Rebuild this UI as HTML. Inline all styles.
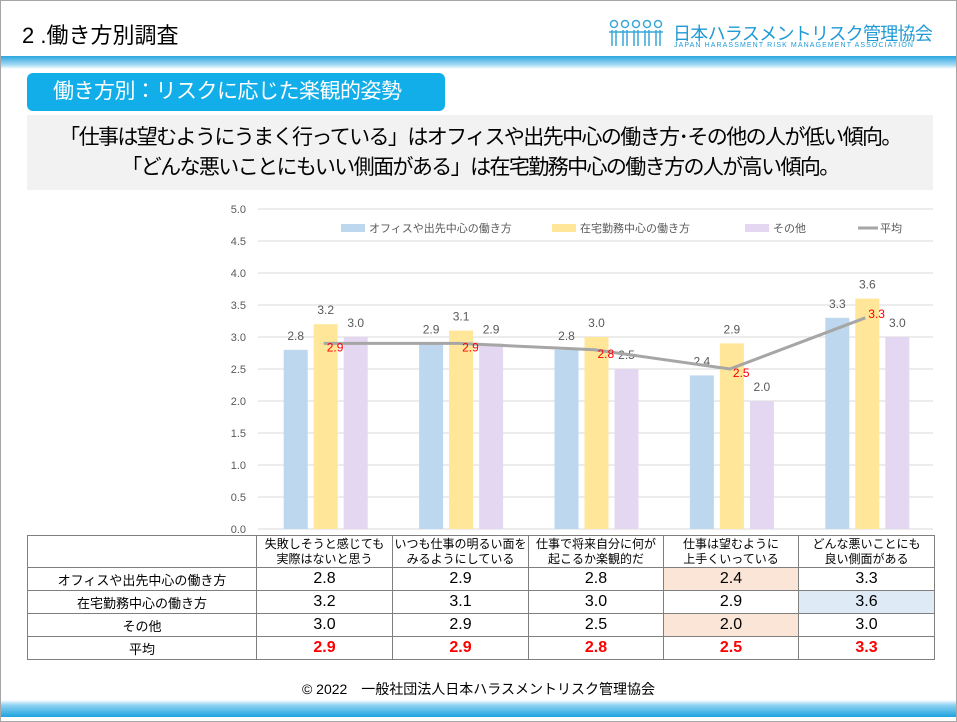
<!DOCTYPE html>
<html><head><meta charset="utf-8">
<style>
body{margin:0;width:957px;height:722px;position:relative;background:#fff;font-family:"Liberation Sans","Noto Sans CJK JP",sans-serif;overflow:hidden}
.abs{position:absolute}
table{border-collapse:collapse;position:absolute;left:27px;top:535px;font-family:"Liberation Sans","Noto Sans CJK JP",sans-serif}
td{border:1px solid #7f7f7f;text-align:center;padding:0;color:#000}
tr.avg td.v{color:#f00;font-weight:bold}
</style></head><body>
<div class="abs" style="left:0;top:0;width:955px;height:720px;border:1px solid #a6a6a6"></div>
<div class="abs" style="left:22px;top:18px;font-size:22px;color:#000">2 .働き方別調査</div>
<div class="abs" style="left:608px;top:18px;width:330px;height:32px">
<svg width="58" height="30" style="position:absolute;left:0;top:0">
<g fill="none" stroke="#3aa7d8" stroke-width="1.5">
<circle cx="6" cy="6" r="3.5"/><circle cx="17" cy="6" r="3.5"/><circle cx="28" cy="6" r="3.5"/><circle cx="39" cy="6" r="3.5"/><circle cx="50" cy="6" r="3.5"/>
<path d="M1 14h54M4 12v16M8 12v16M15 12v16M19 12v16M26 12v16M30 12v16M37 12v16M41 12v16M48 12v16M52 12v16"/></g></svg>
<div class="abs" style="left:65px;top:2px;font-size:18px;color:#1f9ad6;letter-spacing:-0.7px;white-space:nowrap">日本ハラスメントリスク管理協会</div>
<div class="abs" style="left:66px;top:24px;font-size:7px;color:#1f9ad6;letter-spacing:1.1px;white-space:nowrap">JAPAN HARASSMENT RISK MANAGEMENT ASSOCIATION</div>
</div>
<div class="abs" style="left:1px;top:56px;width:955px;height:13px;background:linear-gradient(#2aa6df,#a9dcf4 70%,#fff)"></div>
<div class="abs" style="left:27px;top:73px;width:418px;height:38px;background:#11aeea;border-radius:6px;color:#fff;font-size:21px;line-height:38px;padding-left:26px;box-sizing:border-box;letter-spacing:-0.5px">働き方別：リスクに応じた楽観的姿勢</div>
<div class="abs" style="left:27px;top:115px;width:906px;height:75px;background:#f2f2f2;text-align:center;font-size:21px;line-height:30px;padding-top:8px;box-sizing:border-box;color:#000;white-space:nowrap;letter-spacing:-1.6px">「仕事は望むようにうまく行っている」はオフィスや出先中心の働き方･その他の人が低い傾向。<br>「どんな悪いことにもいい側面がある」は在宅勤務中心の働き方の人が高い傾向。</div>

<svg class="abs" style="left:0;top:0" width="957" height="540" id="chart"></svg>

<table>
<tr style="height:32px;font-size:12px;line-height:15px"><td style="width:228px"></td><td style="width:135px">失敗しそうと感じても<br>実際はないと思う</td><td style="width:135px">いつも仕事の明るい面を<br>みるようにしている</td><td style="width:134px">仕事で将来自分に何が<br>起こるか楽観的だ</td><td style="width:134px">仕事は望むように<br>上手くいっている</td><td style="width:135px">どんな悪いことにも<br>良い側面がある</td></tr>
<tr style="height:23px;font-size:16px"><td style="font-size:13px">オフィスや出先中心の働き方</td><td>2.8</td><td>2.9</td><td>2.8</td><td style="background:#fbe5d6">2.4</td><td>3.3</td></tr>
<tr style="height:23px;font-size:16px"><td style="font-size:13px">在宅勤務中心の働き方</td><td>3.2</td><td>3.1</td><td>3.0</td><td>2.9</td><td style="background:#deebf7">3.6</td></tr>
<tr style="height:23px;font-size:16px"><td style="font-size:13px">その他</td><td>3.0</td><td>2.9</td><td>2.5</td><td style="background:#fbe5d6">2.0</td><td>3.0</td></tr>
<tr class="avg" style="height:23px;font-size:16px"><td style="font-size:13px">平均</td><td class="v">2.9</td><td class="v">2.9</td><td class="v">2.8</td><td class="v">2.5</td><td class="v">3.3</td></tr>
</table>

<div class="abs" style="left:0;width:957px;top:679px;text-align:center;font-size:14px;color:#000">© 2022　一般社団法人日本ハラスメントリスク管理協会</div>
<div class="abs" style="left:1px;top:700px;width:955px;height:17px;background:linear-gradient(#fff,#8fd2f2 30%,#1ea3de)"></div>

<script>
const categories=["失敗しそうと感じても実際はないと思う","いつも仕事の明るい面をみるようにしている","仕事で将来自分に何が起こるか楽観的だ","仕事は望むように上手くいっている","どんな悪いことにも良い側面がある"];
const office=[2.8,2.9,2.8,2.4,3.3];
const home=[3.2,3.1,3.0,2.9,3.6];
const other=[3.0,2.9,2.5,2.0,3.0];
const avg=[2.9,2.9,2.8,2.5,3.3];
const yTicks=[0,0.5,1,1.5,2,2.5,3,3.5,4,4.5,5];
const NS="http://www.w3.org/2000/svg";
const svg=document.getElementById('chart');
const x0=256,x1=933,y0=529,yTop=209,yMax=5;
const y=v=>y0-(v/yMax)*(y0-yTop);
const cw=(x1-x0)/categories.length;
const cx=i=>x0+cw*(i+0.5);
function mk(t,a){const e=document.createElementNS(NS,t);for(const k in a)e.setAttribute(k,a[k]);svg.appendChild(e);return e;}
yTicks.forEach(t=>{
 const l=mk('line',{x1:258,x2:x1,y1:y(t),y2:y(t),stroke:'#d9d9d9','stroke-width':1});
 
 
 const tx=mk('text',{x:246,y:y(t)+4,'text-anchor':'end','font-size':11,fill:'#595959'});
 tx.textContent=t.toFixed(1);
 
 
});
const series=[[office,'#bdd7ee',-28,'bar-office'],[home,'#ffe699',2,'bar-home'],[other,'#e4d7f2',32,'bar-other']];
categories.forEach((c,i)=>{
 series.forEach(([arr,col,off,nm])=>{
  const r=mk('rect',{x:cx(i)+off-12,y:y(arr[i]),width:24,height:y0-y(arr[i]),fill:col});
  
  
  const t=mk('text',{x:cx(i)+off,y:y(arr[i])-10,'text-anchor':'middle','font-size':12,fill:'#595959'});
  t.textContent=arr[i].toFixed(1);
  
  
 });
});
const pl=mk('polyline',{points:avg.map((v,i)=>cx(i)+','+y(v)).join(' '),fill:'none',stroke:'#a6a6a6','stroke-width':3});


avg.forEach((v,i)=>{
 const t=mk('text',{x:cx(i)+3,y:y(v)+ (i==4?0:8),'font-size':12,fill:'#ff0000'});
 t.textContent=v.toFixed(1);
 
 
});
const legend=[['rect','#bdd7ee',341,'オフィスや出先中心の働き方'],['rect','#ffe699',552,'在宅勤務中心の働き方'],['rect','#e4d7f2',745,'その他'],['line','#a6a6a6',858,'平均']];
legend.forEach(([k,col,lx,label])=>{
 let m;
 if(k=='rect')m=mk('rect',{x:lx,y:224,width:24,height:8,fill:col});
 else m=mk('line',{x1:lx,x2:lx+20,y1:228,y2:228,stroke:col,'stroke-width':3});
 
 
 const t=mk('text',{x:lx+(k=='rect'?28:22),y:232,'font-size':11,fill:'#595959'});
 t.textContent=label;
 
 
});
</script>
</body></html>
